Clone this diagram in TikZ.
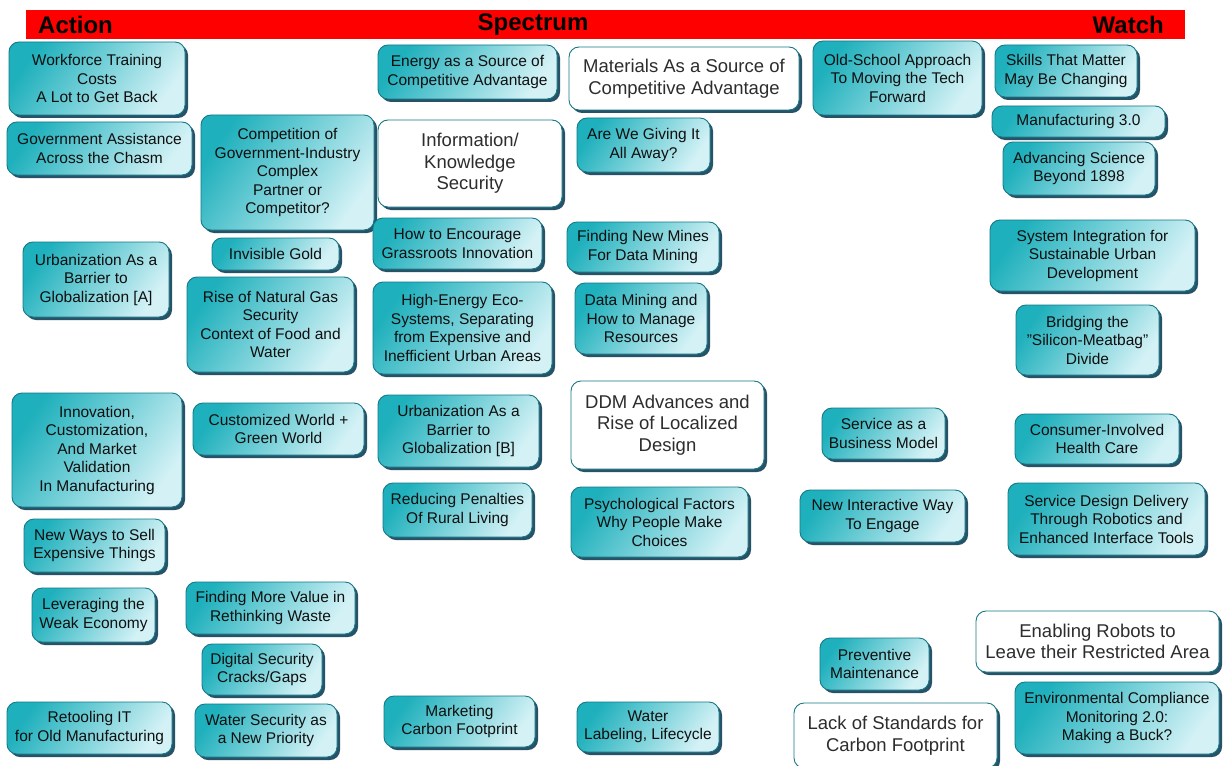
\documentclass[tikz,border=0pt]{standalone}
\usepackage{fontspec}
\setmainfont{Liberation Sans}
\usetikzlibrary{shadows}
\definecolor{tealA}{RGB}{30,176,188}
\definecolor{tealB}{RGB}{212,242,246}
\definecolor{tealEdge}{RGB}{22,120,134}
\definecolor{shadowc}{RGB}{28,74,96}
\definecolor{txtc}{RGB}{15,15,15}
\definecolor{wtxt}{RGB}{45,45,45}
\tikzset{
  tbox/.style={rounded corners=10pt, draw=tealEdge, line width=0.9pt,
    top color=tealA, bottom color=tealB, shading angle=55,
    drop shadow={shadow xshift=3pt, shadow yshift=-3pt, fill=shadowc, opacity=0.95},
    align=center, inner sep=2pt, text=txtc,
    font=\fontsize{15.5}{18.5}\selectfont},
  wbox/.style={rounded corners=10pt, draw=tealEdge, line width=0.9pt, fill=white,
    drop shadow={shadow xshift=3pt, shadow yshift=-3pt, fill=shadowc, opacity=0.95},
    align=center, inner sep=2pt, text=wtxt,
    font=\fontsize{18.5}{21.5}\selectfont},
  sz/.style 2 args={minimum width=#1pt, minimum height=#2pt},
  ttl/.style={font=\fontsize{24}{28}\bfseries\selectfont, text=black, inner sep=0pt}
}
\begin{document}
\begin{tikzpicture}[x=1pt, y=-1pt]
\useasboundingbox[fill=white] (0,0) rectangle (1225,765);
% title bar
\node[fill=red, minimum width=1159pt, minimum height=29pt, inner sep=0pt, anchor=north west] (bar) at (26,10) {};
\node[ttl, anchor=west] (act) at (38,24.5) {Action};
\node[ttl] (spec) at (533,24.5) {Spectrum};
\node[ttl, anchor=east] (wat) at (1164,24.5) {Watch};
% column 1
\node[tbox, sz={176}{73}] (n1) at (97,78.5) {Workforce Training\\Costs\\A Lot to Get Back};
\node[tbox, sz={185}{53}] (n2) at (99.5,148.5) {Government Assistance\\Across the Chasm};
\node[tbox, sz={146}{75}] (n3) at (96,279.5) {Urbanization As a\\Barrier to\\Globalization [A]};
\node[tbox, sz={170}{114}] (n4) at (97,450) {Innovation,\\Customization,\\And Market\\Validation\\In Manufacturing};
\node[tbox, sz={141}{53}] (n5) at (94.5,545.5) {New Ways to Sell\\Expensive Things};
\node[tbox, sz={123}{54}] (n6) at (93.5,615) {Leveraging the\\Weak Economy};
\node[tbox, sz={165}{52}] (n7) at (89.5,728) {Retooling IT\\for Old Manufacturing};
% column 2
\node[tbox, sz={173}{115}] (n8) at (287.5,172.5) {Competition of\\Government-Industry\\Complex\\Partner or\\Competitor?};
\node[tbox, sz={127}{32}] (n9) at (275.5,254) {Invisible Gold};
\node[tbox, sz={167}{95}] (n10) at (270.5,324.5) {Rise of Natural Gas\\Security\\Context of Food and\\Water};
\node[tbox, sz={171}{52}] (n11) at (278.5,429) {Customized World +\\Green World};
\node[tbox, sz={169}{52}] (n12) at (270.5,608) {Finding More Value in\\Rethinking Waste};
\node[tbox, sz={120}{51}] (n13) at (262,669.5) {Digital Security\\Cracks/Gaps};
\node[tbox, sz={142}{53}] (n14) at (266,730.5) {Water Security as\\a New Priority};
% column 3
\node[tbox, sz={179}{54}] (n15) at (467.5,72) {Energy as a Source of\\Competitive Advantage};
\node[wbox, sz={184}{87}] (n16) at (470,163.5) {Information/\\Knowledge\\Security};
\node[tbox, sz={169}{51}] (n17) at (457.5,243.5) {How to Encourage\\Grassroots Innovation};
\node[tbox, sz={179}{92}] (n18) at (462.5,328) {High-Energy Eco-\\Systems, Separating\\from Expensive and\\Inefficient Urban Areas};
\node[tbox, sz={161}{72}] (n19) at (458.5,431) {Urbanization As a\\Barrier to\\Globalization [B]};
\node[tbox, sz={149}{54}] (n20) at (457.5,510) {Reducing Penalties\\Of Rural Living};
\node[tbox, sz={151}{51}] (n21) at (459.5,721.5) {Marketing\\Carbon Footprint};
% column 4
\node[wbox, sz={230}{63}] (n22) at (684,78.5) {Materials As a Source of\\Competitive Advantage};
\node[tbox, sz={133}{54}] (n23) at (643.5,145) {Are We Giving It\\All Away?};
\node[tbox, sz={152}{50}] (n24) at (643,247) {Finding New Mines\\For Data Mining};
\node[tbox, sz={132}{71}] (n25) at (641,318.5) {Data Mining and\\How to Manage\\Resources};
\node[wbox, sz={193}{88}] (n26) at (667.5,425) {DDM Advances and\\Rise of Localized\\Design};
\node[tbox, sz={177}{70}] (n27) at (659.5,522) {Psychological Factors\\Why People Make\\Choices};
\node[tbox, sz={142}{50}] (n28) at (648,727) {Water\\Labeling, Lifecycle};
% column 5
\node[tbox, sz={169}{74}] (n29) at (897.5,78) {Old-School Approach\\To Moving the Tech\\Forward};
\node[tbox, sz={123}{51}] (n30) at (883.5,433.5) {Service as a\\Business Model};
\node[tbox, sz={165}{52}] (n31) at (882.5,516) {New Interactive Way\\To Engage};
\node[tbox, sz={109}{52}] (n32) at (874.5,664) {Preventive\\Maintenance};
\node[wbox, sz={203}{65}] (n33) at (895.5,735.5) {Lack of Standards for\\Carbon Footprint};
% column 6
\node[tbox, sz={142}{52}] (n34) at (1066,71) {Skills That Matter\\May Be Changing};
\node[tbox, sz={173}{31}] (n35) at (1078.5,121.5) {Manufacturing 3.0};
\node[tbox, sz={152}{53}] (n36) at (1079,168.5) {Advancing Science\\Beyond 1898};
\node[tbox, sz={205}{71}] (n37) at (1092.5,255.5) {System Integration for\\Sustainable Urban\\Development};
\node[tbox, sz={143}{70}] (n38) at (1087.5,340) {Bridging the\\"Silicon-Meatbag"\\Divide};
\node[tbox, sz={164}{50}] (n39) at (1097,439) {Consumer-Involved\\Health Care};
\node[tbox, sz={197}{72}] (n40) at (1106.5,519) {Service Design Delivery\\Through Robotics and\\Enhanced Interface Tools};
\node[wbox, sz={243}{61}] (n41) at (1097.5,641.5) {Enabling Robots to\\Leave their Restricted Area};
\node[tbox, sz={204}{72}] (n42) at (1117,718) {Environmental Compliance\\Monitoring 2.0:\\Making a Buck?};
\end{tikzpicture}
\end{document}
